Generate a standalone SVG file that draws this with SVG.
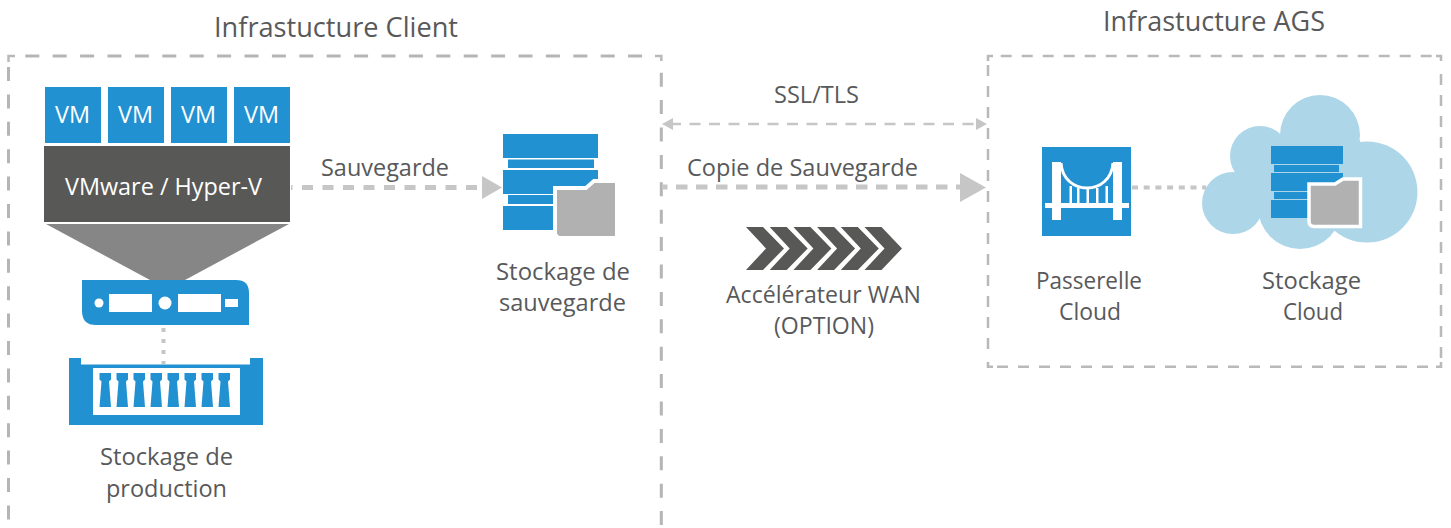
<svg xmlns="http://www.w3.org/2000/svg" width="1451" height="528" viewBox="0 0 1451 528">
<style>
text{font-family:"Open Sans","Noto Sans","Liberation Sans",sans-serif;font-size:23px;fill:#58595b;text-anchor:start}
.w{fill:#fff}
.t{font-size:27px}
.b{fill:#2291d1}
.g{fill:#b1b1b1}
.c{fill:#add6e8}
.z1{fill:none;stroke:#b5b5b5;stroke-width:3;stroke-dasharray:14 13.400}
.z2{fill:none;stroke:#b9b9b9;stroke-width:2.500;stroke-dasharray:11 10}
.s{fill:none;stroke:#b9b9b9;stroke-width:2.500}
.ln{fill:none;stroke:#c6c6c6}
.ah{fill:#c6c6c6}
</style>
<g id="zone-client">
<path class="s" stroke-width="3" d="M8.500 62V56H15"/>
<path class="z1" d="M8.500 67V528"/>
<path class="z1" d="M25.300 56H652"/>
<path class="s" d="M655 56H661.300V61"/>
<path class="z1" d="M661.300 72.700V528"/>
</g>
<g id="zone-ags">
<path class="s" d="M993 56H988V61"/>
<path class="z2" d="M1000.700 56H1432"/>
<path class="s" d="M1436 56H1441V61"/>
<path class="z2" d="M1441 358V66"/>
<path class="s" d="M1441 362V366.700H1436"/>
<path class="z2" d="M997 366.700H1429"/>
<path class="s" d="M993 366.700H988V362"/>
<path class="z2" d="M988 65V358"/>
</g>
<g id="connectors">
<path class="ln" stroke-width="5" stroke-dasharray="11 9.500" stroke-dashoffset="9.500" d="M291 187.500H482"/>
<polygon class="ah" points="482,176 502,187.500 482,199"/>
<path class="ln" stroke-width="2.500" stroke-dasharray="11 8.500" d="M670 124H980"/>
<polygon class="ah" points="662,124 673,118 673,130"/>
<polygon class="ah" points="987,124 976,118 976,130"/>
<path class="ln" stroke-width="5" stroke-dasharray="11.500 8.500" stroke-dashoffset="6" d="M662 187H962"/>
<polygon class="ah" points="960,173 986,187.500 960,202"/>
<path class="ln" stroke-width="4" stroke-dasharray="6 5.700" d="M1132 187.500H1206"/>
<path class="ln" stroke-width="4" stroke-dasharray="4 7" d="M163.500 328V364"/>
</g>
<g id="title-client"><text class="t" x="214" y="37" textLength="244" lengthAdjust="spacingAndGlyphs">Infrastucture Client</text></g>
<g id="title-ags"><text class="t" x="1103" y="31" textLength="222" lengthAdjust="spacingAndGlyphs">Infrastucture AGS</text></g>
<g id="vm1"><rect class="b" x="45" y="87" width="56" height="56"/><text class="w" x="55" y="123" textLength="35" lengthAdjust="spacingAndGlyphs">VM</text></g>
<g id="vm2"><rect class="b" x="108" y="87" width="56" height="56"/><text class="w" x="118" y="123" textLength="35" lengthAdjust="spacingAndGlyphs">VM</text></g>
<g id="vm3"><rect class="b" x="171" y="87" width="56" height="56"/><text class="w" x="181" y="123" textLength="35" lengthAdjust="spacingAndGlyphs">VM</text></g>
<g id="vm4"><rect class="b" x="234" y="87" width="56" height="56"/><text class="w" x="244" y="123" textLength="35" lengthAdjust="spacingAndGlyphs">VM</text></g>
<g id="hypervisor"><rect x="44" y="146" width="246" height="76" fill="#585857"/><text class="w" x="65" y="195" textLength="197" lengthAdjust="spacingAndGlyphs">VMware / Hyper-V</text></g>
<g id="funnel"><polygon points="46,224 289,224 185,280 150,280" fill="#868686"/></g>
<g id="server">
<path class="b" d="M82 280H236Q249 280 249 293V325H96Q82 325 82 311Z"/>
<circle class="w" cx="99" cy="303" r="4.500"/><circle class="w" cx="165" cy="303" r="6.500"/>
<rect class="w" x="109" y="294" width="43" height="18"/><rect class="w" x="178" y="294" width="43" height="18"/><rect class="w" x="225" y="299" width="13" height="8"/>
</g>
<g id="production-storage">
<path class="b" d="M69 358H81V364.500H250V358H263V425H69Z"/>
<rect class="w" x="93" y="368" width="147" height="47"/>
<g class="b">
<path d="M99.500 373H111V379.500L109 381.500L111 407H99.500L101.500 381.500L99.500 379.500Z"/>
<path d="M116.500 373H128V379.500L126 381.500L128 407H116.500L118.500 381.500L116.500 379.500Z"/>
<path d="M133.500 373H145V379.500L143 381.500L145 407H133.500L135.500 381.500L133.500 379.500Z"/>
<path d="M150.500 373H162V379.500L160 381.500L162 407H150.500L152.500 381.500L150.500 379.500Z"/>
<path d="M167.500 373H179V379.500L177 381.500L179 407H167.500L169.500 381.500L167.500 379.500Z"/>
<path d="M184.500 373H196V379.500L194 381.500L196 407H184.500L186.500 381.500L184.500 379.500Z"/>
<path d="M201.500 373H213V379.500L211 381.500L213 407H201.500L203.500 381.500L201.500 379.500Z"/>
<path d="M218.500 373H230V379.500L228 381.500L230 407H218.500L220.500 381.500L218.500 379.500Z"/>
</g>
<text x="100" y="465" textLength="133" lengthAdjust="spacingAndGlyphs">Stockage de</text>
<text x="106" y="497" textLength="121" lengthAdjust="spacingAndGlyphs">production</text>
</g>
<g id="backup-storage">
<rect class="b" x="503" y="134" width="95" height="24"/><rect class="b" x="508" y="159.500" width="86" height="8.500"/><rect class="b" x="503" y="170" width="95" height="24"/><rect class="b" x="508" y="195" width="86" height="9"/><rect class="b" x="503" y="206" width="95" height="24"/>
<path class="g" stroke="#fff" stroke-width="4" d="M555 188H586L594 181H617V238H561Q555 238 555 232Z"/>
<path class="g" d="M557 190H587L595 183H615V236H562Q557 236 557 231Z"/>
<text x="496" y="280" textLength="134" lengthAdjust="spacingAndGlyphs">Stockage de</text>
<text x="499" y="311" textLength="127" lengthAdjust="spacingAndGlyphs">sauvegarde</text>
</g>
<g id="label-sauvegarde"><text x="321" y="176" textLength="128" lengthAdjust="spacingAndGlyphs">Sauvegarde</text></g>
<g id="label-ssl"><text x="774" y="103" textLength="85" lengthAdjust="spacingAndGlyphs">SSL/TLS</text></g>
<g id="label-copie"><text x="687" y="176" textLength="231" lengthAdjust="spacingAndGlyphs">Copie de Sauvegarde</text></g>
<g id="wan-accelerator">
<g fill="#585857">
<polygon points="746,227 763,227 784,248.500 763,270 746,270 766,248.500"/>
<polygon points="769.700,227 786.700,227 807.700,248.500 786.700,270 769.700,270 789.700,248.500"/>
<polygon points="793.400,227 810.400,227 831.400,248.500 810.400,270 793.400,270 813.400,248.500"/>
<polygon points="817.100,227 834.100,227 855.100,248.500 834.100,270 817.100,270 837.100,248.500"/>
<polygon points="840.800,227 857.800,227 878.800,248.500 857.800,270 840.800,270 860.800,248.500"/>
<polygon points="864.500,227 881.500,227 902,248.500 881.500,270 864.500,270 884.500,248.500"/>
</g>
<text x="726" y="303" textLength="195" lengthAdjust="spacingAndGlyphs">Accélérateur WAN</text>
<text x="774" y="334" textLength="100" lengthAdjust="spacingAndGlyphs">(OPTION)</text>
</g>
<g id="cloud-gateway">
<rect class="b" x="1042" y="147" width="89" height="89"/>
<g fill="#fff">
<rect x="1052" y="162" width="9" height="58"/><rect x="1113" y="162" width="9" height="58"/><rect x="1045" y="203" width="84" height="5"/>
<rect x="1069.500" y="186" width="2.500" height="18"/><rect x="1077" y="188" width="2.500" height="16"/><rect x="1086.500" y="189" width="2.500" height="15"/><rect x="1096" y="188" width="2.500" height="16"/><rect x="1105.500" y="186" width="2.500" height="18"/>
</g>
<path d="M1061 163C1062 179 1074 188 1087 188S1112 179 1113 163" fill="none" stroke="#fff" stroke-width="3"/>
<text x="1036" y="289" textLength="106" lengthAdjust="spacingAndGlyphs">Passerelle</text>
<text x="1059" y="320" textLength="62" lengthAdjust="spacingAndGlyphs">Cloud</text>
</g>
<g id="cloud-storage">
<g class="c">
<circle cx="1320" cy="135" r="40"/><circle cx="1260" cy="156" r="30"/><circle cx="1233" cy="203" r="31"/><circle cx="1367" cy="192" r="50.500"/><circle cx="1300" cy="207" r="42"/><rect x="1250" y="140" width="110" height="70"/>
</g>
<rect class="b" x="1271" y="146" width="72" height="18"/><rect class="b" x="1274" y="165" width="65" height="7"/><rect class="b" x="1271" y="173" width="72" height="18"/><rect class="b" x="1274" y="192" width="65" height="7"/><rect class="b" x="1271" y="200" width="72" height="18"/>
<path class="g" stroke="#fff" stroke-width="3.500" d="M1309 184H1335L1343 179H1360.500V226.500H1314Q1309 226.500 1309 221Z"/>
<text x="1262" y="289" textLength="99" lengthAdjust="spacingAndGlyphs">Stockage</text>
<text x="1283" y="320" textLength="60" lengthAdjust="spacingAndGlyphs">Cloud</text>
</g>
</svg>
